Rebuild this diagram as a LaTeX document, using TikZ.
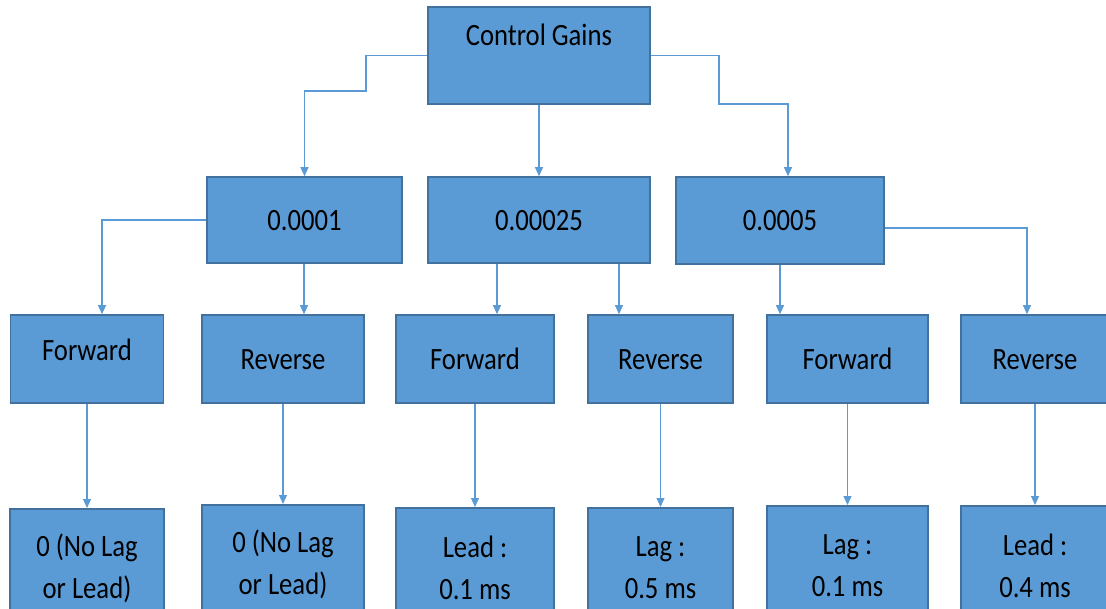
\documentclass[tikz,border=0pt]{standalone}
\usepackage{fontspec}
\setmainfont{Carlito}[FakeStretch=0.86]
\usetikzlibrary{arrows.meta}
\definecolor{boxblue}{HTML}{5B9BD5}
\definecolor{edgeblue}{HTML}{41719C}

\begin{document}
\begin{tikzpicture}[
  x=1pt, y=-1pt,
  BX/.style={draw=edgeblue, fill=boxblue, line width=1.6pt, inner sep=0pt,
             align=center, text height=21pt, text depth=0pt,
             font=\fontsize{31}{42}\selectfont},
  LV/.style={BX, minimum height=88, text depth=0pt},
  LF/.style={BX, anchor=north, minimum height=120, text height=, text depth=},
  AR/.style={-{Triangle[width=8pt,length=9pt]}, line width=1.1pt, boxblue}
]
  \useasboundingbox (0,0) rectangle (1106,609);
  \clip (0,0) rectangle (1106,609);

  \node[BX, minimum width=222, minimum height=97, text depth=41pt] (g0) at (539,55.5) {Control Gains};

  \node[BX, minimum width=195, minimum height=86] (g1) at (304.5,220) {0.0001};
  \node[BX, minimum width=222, minimum height=86] (g2) at (539,220)   {0.00025};
  \node[BX, minimum width=208, minimum height=87] (g3) at (780,220.5) {0.0005};

  \node[LV, minimum width=153, text depth=17pt] (f1) at (87,359) {Forward};
  \node[LV, minimum width=162] (r1) at (283,359)    {Reverse};
  \node[LV, minimum width=158] (f2) at (475,359)    {Forward};
  \node[LV, minimum width=145] (r2) at (660.5,359)  {Reverse};
  \node[LV, minimum width=161] (f3) at (847.5,359)  {Forward};
  \node[LV, minimum width=148] (r3) at (1035,359)   {Reverse};

  \node[LF, minimum width=154] (b1) at (87,508)    {0 (No Lag\\or Lead)};
  \node[LF, minimum width=162] (b2) at (283,504)   {0 (No Lag\\or Lead)};
  \node[LF, minimum width=158] (b3) at (475,507)   {Lead :\\0.1 ms};
  \node[LF, minimum width=145] (b4) at (660.5,507) {Lag :\\0.5 ms};
  \node[LF, minimum width=161] (b5) at (847.5,505) {Lag :\\0.1 ms};
  \node[LF, minimum width=148] (b6) at (1035,505)  {Lead :\\0.4 ms};

  % gains to the three values
  \draw[AR] (g0.west) -| (366,91) -| (g1.north);
  \draw[AR] (g0) -- (g2);
  \draw[AR] (g0.east) -| (719,104) -| ([xshift=8]g3.north);

  % values to forward / reverse
  \draw[AR] (g1.west) -| ([xshift=15]f1.north);
  \draw[AR] ([yshift=-7.5]g3.east) -| ([xshift=-8]r3.north);
  \foreach \a/\b/\dx in {g1/r1/21, g2/f2/22, g2/r2/-41.5, g3/f3/-67.5}
    \draw[AR] ([xshift=\dx]\b.north |- \a.south) -- ([xshift=\dx]\b.north);

  \foreach \a/\b in {f1/b1,r1/b2,f2/b3,r2/b4,f3/b5,r3/b6}  \draw[AR](\a)--(\b);
\end{tikzpicture}
\end{document}
